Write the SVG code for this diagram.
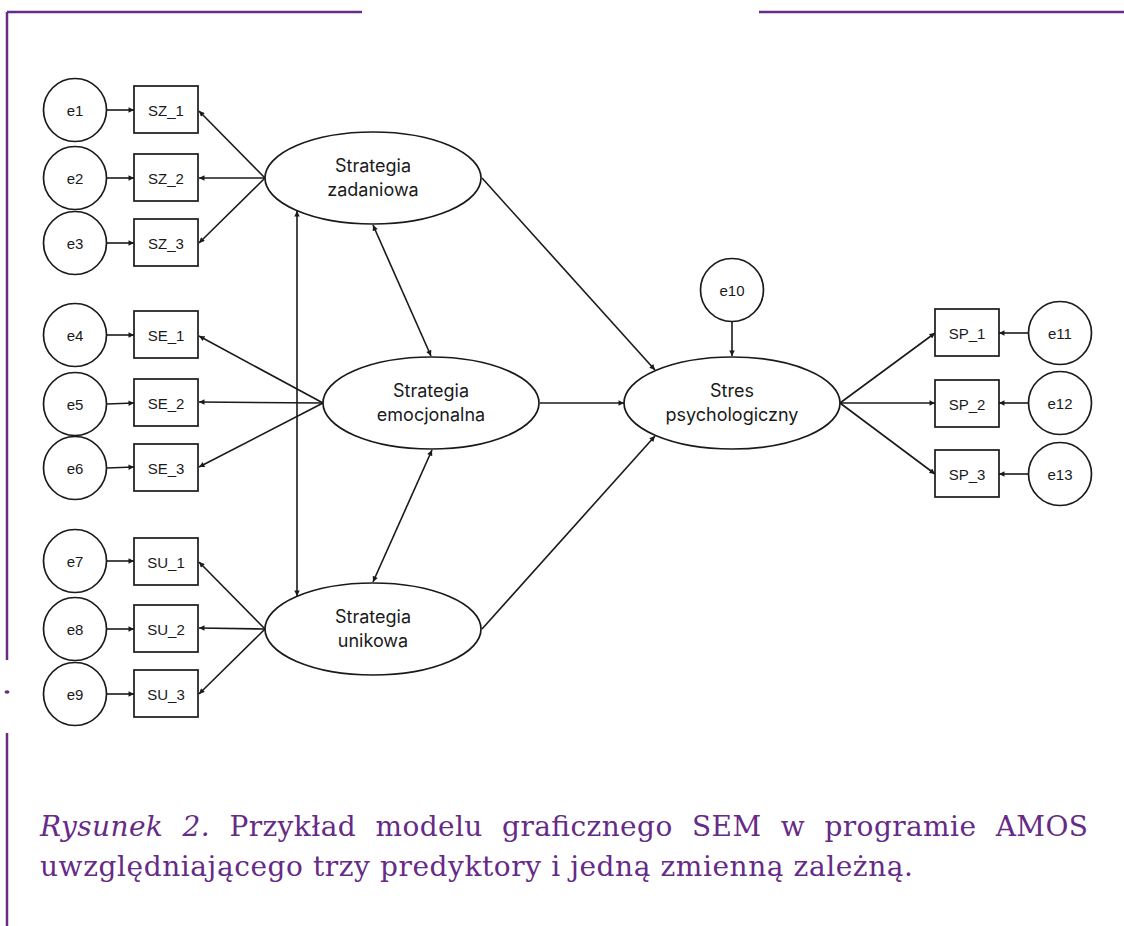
<svg xmlns="http://www.w3.org/2000/svg" width="1124" height="926" viewBox="0 0 1124 926">
  <style>
    .n { fill: #fff; stroke: #1a1a1a; stroke-width: 1.7; }
    .c { fill: none; stroke: #1a1a1a; stroke-width: 1.6; marker-end: url(#ah); }
    .d { marker-start: url(#ah); }
    .t { font-family: "Liberation Sans", Arial, sans-serif; font-size: 15px; text-anchor: middle; fill: #1a1a1a; }
    .l { font-family: Inter, "Liberation Sans", sans-serif; font-size: 18px; text-anchor: middle; fill: #1a1a1a; }
    .frame { fill: none; stroke: #672b88; stroke-width: 2.5; }
    .cap { font-family: "DejaVu Serif", "Liberation Serif", serif; font-size: 28px; fill: #662a87; }
  </style>
  <defs>
    <marker id="ah" viewBox="0 0 10 10" refX="10" refY="5" markerWidth="8" markerHeight="5.5" markerUnits="userSpaceOnUse" orient="auto-start-reverse">
      <path d="M0,0 L10,5 L0,10 z" fill="#1a1a1a"/>
    </marker>
  </defs>

  <rect width="1124" height="926" fill="#fff"/>

  <!-- page frame -->
  <g id="frame">
    <path class="frame" d="M7,12 H362 M759,12 H1124 M7,12 V660 M7,733 V926"/>
    <ellipse cx="7" cy="692" rx="2.5" ry="1.8" fill="#672b88"/>
  </g>

  <!-- connectors -->
  <g id="connectors">
    <!-- errors to indicators -->
    <line class="c" x1="107" y1="110" x2="134" y2="110"/>
    <line class="c" x1="107" y1="178" x2="134" y2="178"/>
    <line class="c" x1="107" y1="243" x2="134" y2="243"/>
    <line class="c" x1="107" y1="335" x2="134" y2="335"/>
    <line class="c" x1="107" y1="404" x2="134" y2="403"/>
    <line class="c" x1="107" y1="468" x2="134" y2="467"/>
    <line class="c" x1="107" y1="561" x2="134" y2="561"/>
    <line class="c" x1="107" y1="629" x2="134" y2="629"/>
    <line class="c" x1="107" y1="694" x2="134" y2="694"/>
    <!-- loadings -->
    <line class="c" x1="265" y1="178" x2="199" y2="111"/>
    <line class="c" x1="265" y1="178" x2="199" y2="178"/>
    <line class="c" x1="265" y1="178" x2="199" y2="243"/>
    <line class="c" x1="323" y1="403" x2="199" y2="336"/>
    <line class="c" x1="323" y1="403" x2="199" y2="402"/>
    <line class="c" x1="323" y1="403" x2="199" y2="467"/>
    <line class="c" x1="265" y1="629" x2="199" y2="562"/>
    <line class="c" x1="265" y1="629" x2="199" y2="628"/>
    <line class="c" x1="265" y1="629" x2="199" y2="694"/>
    <!-- covariances -->
    <line class="c d" x1="297" y1="211" x2="297" y2="596"/>
    <line class="c d" x1="373" y1="225" x2="431" y2="356"/>
    <line class="c d" x1="432" y1="450" x2="373" y2="582"/>
    <!-- structural paths -->
    <line class="c" x1="482" y1="178" x2="655" y2="370"/>
    <line class="c" x1="540" y1="403" x2="624" y2="403"/>
    <line class="c" x1="482" y1="629" x2="655" y2="436"/>
    <line class="c" x1="732" y1="321" x2="732" y2="356"/>
    <!-- outcome indicators -->
    <line class="c" x1="840" y1="403" x2="935" y2="333"/>
    <line class="c" x1="840" y1="403" x2="935" y2="403"/>
    <line class="c" x1="840" y1="403" x2="935" y2="474"/>
    <line class="c" x1="1029" y1="333" x2="999" y2="333"/>
    <line class="c" x1="1029" y1="403" x2="999" y2="403"/>
    <line class="c" x1="1029" y1="474" x2="999" y2="474"/>
  </g>

  <!-- error terms -->
  <g id="e1"><circle class="n" cx="75" cy="110" r="31.5"/><text class="t" x="75" y="115.5">e1</text></g>
  <g id="e2"><circle class="n" cx="75" cy="178" r="31.5"/><text class="t" x="75" y="183.5">e2</text></g>
  <g id="e3"><circle class="n" cx="75" cy="243" r="31.5"/><text class="t" x="75" y="248.5">e3</text></g>
  <g id="e4"><circle class="n" cx="75" cy="335" r="31.5"/><text class="t" x="75" y="340.5">e4</text></g>
  <g id="e5"><circle class="n" cx="75" cy="404" r="31.5"/><text class="t" x="75" y="409.5">e5</text></g>
  <g id="e6"><circle class="n" cx="75" cy="468" r="31.5"/><text class="t" x="75" y="473.5">e6</text></g>
  <g id="e7"><circle class="n" cx="75" cy="561" r="31.5"/><text class="t" x="75" y="566.5">e7</text></g>
  <g id="e8"><circle class="n" cx="75" cy="629" r="31.5"/><text class="t" x="75" y="634.5">e8</text></g>
  <g id="e9"><circle class="n" cx="75" cy="694" r="31.5"/><text class="t" x="75" y="699.5">e9</text></g>
  <g id="e10"><circle class="n" cx="732" cy="290" r="31.5"/><text class="t" x="732" y="295.5">e10</text></g>
  <g id="e11"><circle class="n" cx="1060" cy="333" r="31.5"/><text class="t" x="1060" y="338.5">e11</text></g>
  <g id="e12"><circle class="n" cx="1060" cy="403" r="31.5"/><text class="t" x="1060" y="408.5">e12</text></g>
  <g id="e13"><circle class="n" cx="1060" cy="474" r="31.5"/><text class="t" x="1060" y="479.5">e13</text></g>

  <!-- observed indicators -->
  <g id="SZ_1"><rect class="n" x="134" y="86" width="64" height="47"/><text class="t" x="166" y="115.5">SZ_1</text></g>
  <g id="SZ_2"><rect class="n" x="134" y="154" width="64" height="47"/><text class="t" x="166" y="183.5">SZ_2</text></g>
  <g id="SZ_3"><rect class="n" x="134" y="219" width="64" height="47"/><text class="t" x="166" y="248.5">SZ_3</text></g>
  <g id="SE_1"><rect class="n" x="134" y="311" width="64" height="47"/><text class="t" x="166" y="340.5">SE_1</text></g>
  <g id="SE_2"><rect class="n" x="134" y="379" width="64" height="47"/><text class="t" x="166" y="408.5">SE_2</text></g>
  <g id="SE_3"><rect class="n" x="134" y="444" width="64" height="47"/><text class="t" x="166" y="473.5">SE_3</text></g>
  <g id="SU_1"><rect class="n" x="134" y="538" width="64" height="47"/><text class="t" x="166" y="567.5">SU_1</text></g>
  <g id="SU_2"><rect class="n" x="134" y="605" width="64" height="47"/><text class="t" x="166" y="634.5">SU_2</text></g>
  <g id="SU_3"><rect class="n" x="134" y="670" width="64" height="47"/><text class="t" x="166" y="699.5">SU_3</text></g>
  <g id="SP_1"><rect class="n" x="935" y="309" width="64" height="47"/><text class="t" x="967" y="338.5">SP_1</text></g>
  <g id="SP_2"><rect class="n" x="935" y="380" width="64" height="47"/><text class="t" x="967" y="409.5">SP_2</text></g>
  <g id="SP_3"><rect class="n" x="935" y="450" width="64" height="47"/><text class="t" x="967" y="479.5">SP_3</text></g>

  <!-- latent variables -->
  <g id="strategia-zadaniowa"><ellipse class="n" cx="373" cy="178" rx="108" ry="46"/><text class="l" x="373" y="172">Strategia</text><text class="l" x="373" y="196">zadaniowa</text></g>
  <g id="strategia-emocjonalna"><ellipse class="n" cx="431" cy="403" rx="108" ry="46"/><text class="l" x="431" y="397">Strategia</text><text class="l" x="431" y="421">emocjonalna</text></g>
  <g id="strategia-unikowa"><ellipse class="n" cx="373" cy="629" rx="108" ry="46"/><text class="l" x="373" y="623">Strategia</text><text class="l" x="373" y="647">unikowa</text></g>
  <g id="stres-psychologiczny"><ellipse class="n" cx="732" cy="403" rx="108" ry="46"/><text class="l" x="732" y="397">Stres</text><text class="l" x="732" y="421">psychologiczny</text></g>

  <!-- caption -->
  <g id="caption">
    <text class="cap" x="40" y="836" textLength="1048" lengthAdjust="spacing" word-spacing="10"><tspan font-style="italic">Rysunek 2.</tspan> Przykład modelu graficznego SEM w programie AMOS</text>
    <text class="cap" x="40" y="876" textLength="873" lengthAdjust="spacing">uwzględniającego trzy predyktory i jedną zmienną zależną.</text>
  </g>
</svg>
